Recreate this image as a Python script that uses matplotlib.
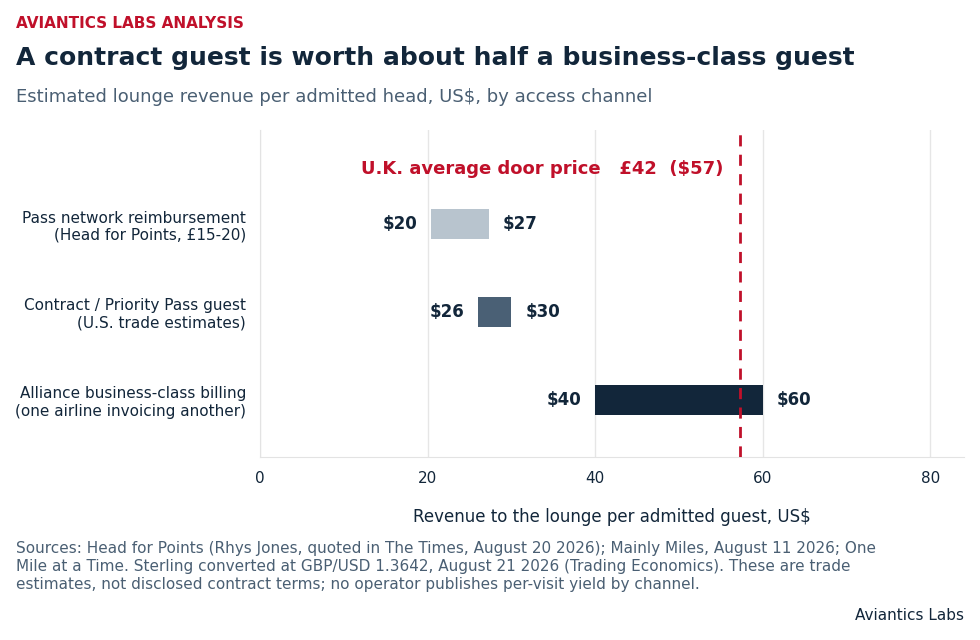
import numpy as np
import matplotlib
matplotlib.use("Agg")
import matplotlib.pyplot as plt

# data
channels = [
    "Pass network reimbursement\n(Head for Points, £15-20)",
    "Contract / Priority Pass guest\n(U.S. trade estimates)",
    "Alliance business-class billing\n(one airline invoicing another)",
]
gbp_usd = 1.3642
low = [15 * gbp_usd, 26, 40]
high = [20 * gbp_usd, 30, 60]
bar_colors = ["#b8c4ce", "#4a6075", "#12263a"]

door_gbp = 42
door_usd = door_gbp * gbp_usd

x_ticks = [0, 20, 40, 60, 80]

navy = "#12263a"
red = "#c0102a"
gray = "#4a5f73"

plt.rcParams["font.family"] = ["DejaVu Sans"]

fig = plt.figure(figsize=(9.8, 6.4), dpi=100)
ax = fig.add_axes([260 / 980, 1 - 457 / 640, (964 - 260) / 980, (457 - 130) / 640])

y = np.arange(len(channels))
ax.barh(y, np.array(high) - np.array(low), left=low, height=0.34, color=bar_colors, zorder=2)

for yi, lo, hi in zip(y, low, high):
    ax.annotate(f"${lo:.0f}", (lo, yi), xytext=(-10, 0), textcoords="offset points",
                ha="right", va="center", fontsize=12, fontweight="bold", color=navy)
    ax.annotate(f"${hi:.0f}", (hi, yi), xytext=(10, 0), textcoords="offset points",
                ha="left", va="center", fontsize=12, fontweight="bold", color=navy)

ax.axvline(door_usd, color=red, linestyle=(0, (4, 3)), linewidth=2, zorder=3)
ax.text(door_usd - 2, -0.625, f"U.K. average door price   £{door_gbp}  (${door_usd:.0f})",
        ha="right", va="center", fontsize=13, fontweight="bold", color=red)

ax.set_xlim(0, 84)
ax.set_ylim(2.65, -1.07)
ax.set_yticks(y)
ax.set_yticklabels(channels, fontsize=11, color=navy)
ax.set_xticks(x_ticks)
ax.set_xticklabels([str(t) for t in x_ticks], fontsize=11, color=navy)
ax.tick_params(axis="x", length=0, pad=10)
ax.tick_params(axis="y", length=0, pad=10)
ax.grid(axis="x", color="#e6e6e6", linewidth=1, zorder=0)
ax.set_axisbelow(True)
for s in ["top", "right"]:
    ax.spines[s].set_visible(False)
for s in ["left", "bottom"]:
    ax.spines[s].set_color("#e3e3e3")
ax.set_xlabel("Revenue to the lounge per admitted guest, US$", fontsize=12, color=navy, labelpad=16)

fig.text(16 / 980, 1 - 23 / 640, "AVIANTICS LABS ANALYSIS", fontsize=11, fontweight="bold",
         color=red, va="center")
fig.text(16 / 980, 1 - 58 / 640, "A contract guest is worth about half a business-class guest",
         fontsize=18, fontweight="bold", color=navy, va="center")
fig.text(16 / 980, 1 - 97 / 640, "Estimated lounge revenue per admitted head, US$, by access channel",
         fontsize=13, color=gray, va="center")

footer = ("Sources: Head for Points (Rhys Jones, quoted in The Times, August 20 2026); Mainly Miles, August 11 2026; One\n"
          "Mile at a Time. Sterling converted at GBP/USD 1.3642, August 21 2026 (Trading Economics). These are trade\n"
          "estimates, not disclosed contract terms; no operator publishes per-visit yield by channel.")
fig.text(16 / 980, 1 - 541 / 640, footer, fontsize=11, color=gray, va="top", linespacing=1.25)
fig.text(964 / 980, 1 - 616 / 640, "Aviantics Labs", fontsize=11, color=navy, ha="right", va="center")

fig.savefig("out.png", dpi=100)
